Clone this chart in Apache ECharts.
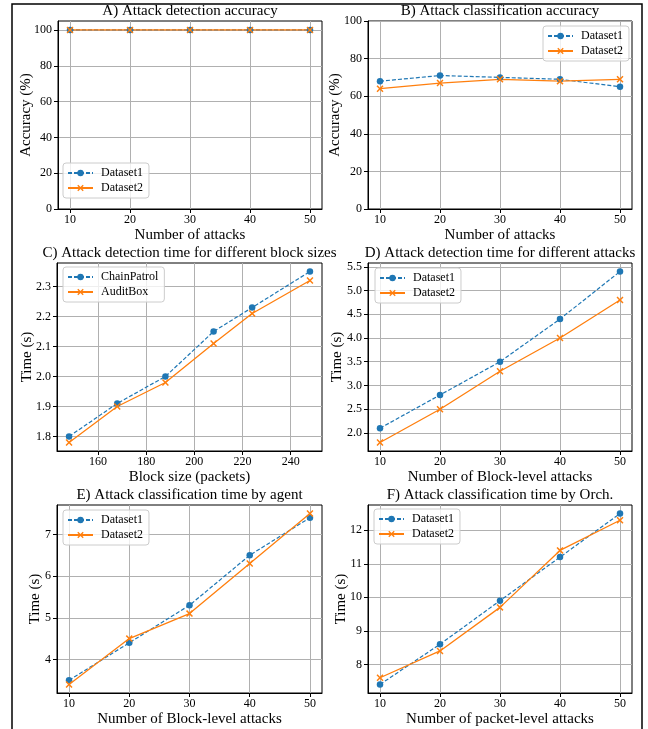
<!DOCTYPE html>
<html>
<head>
<meta charset="utf-8">
<script src="https://cdn.jsdelivr.net/npm/echarts@6/dist/echarts.min.js"></script>
<style>
  html, body { margin: 0; padding: 0; background: #fff; }
  #main { width: 648px; height: 729px; }
</style>
</head>
<body>
<div id="main"></div>
<script>
// ---- data ----
var attacks = [10, 20, 30, 40, 50];
var blockSizes = [148, 168, 188, 208, 224, 248];

var accDetect1 = [100, 100, 100, 100, 100];
var accDetect2 = [100, 100, 100, 100, 100];
var accClass1 = [68, 71, 70, 69, 65];
var accClass2 = [64, 67, 69, 68, 69];
var blockTimeChainPatrol = [1.80, 1.91, 2.00, 2.15, 2.23, 2.35];
var blockTimeAuditBox = [1.78, 1.90, 1.98, 2.11, 2.21, 2.32];
var detectTime1 = [2.1, 2.8, 3.5, 4.4, 5.4];
var detectTime2 = [1.8, 2.5, 3.3, 4.0, 4.8];
var agentTime1 = [3.5, 4.4, 5.3, 6.5, 7.4];
var agentTime2 = [3.4, 4.5, 5.1, 6.3, 7.5];
var orchTime1 = [7.4, 8.6, 9.9, 11.2, 12.5];
var orchTime2 = [7.6, 8.4, 9.7, 11.4, 12.3];

// tick labels
var attackTicks = [10, 20, 30, 40, 50];
var blockTicks = [160, 180, 200, 220, 240];
var accTicks = [0, 20, 40, 60, 80, 100];
var blockTimeTicks = [1.8, 1.9, 2.0, 2.1, 2.2, 2.3];
var detectTimeTicks = [2.0, 2.5, 3.0, 3.5, 4.0, 4.5, 5.0, 5.5];
var agentTimeTicks = [4, 5, 6, 7];
var orchTimeTicks = [8, 9, 10, 11, 12];

var FONT = '"Liberation Serif", "DejaVu Serif", serif';
var BLUE = '#1f77b4', ORANGE = '#ff7f0e';
var XMARK = 'path://M0,1.5L1.5,0L5,3.5L8.5,0L10,1.5L6.5,5L10,8.5L8.5,10L5,6.5L1.5,10L0,8.5L3.5,5Z';

function pairs(xs, ys) {
  return xs.map(function (x, i) { return [x, ys[i]]; });
}
// matplotlib style 5% margins
function padded(arrs) {
  var all = [].concat.apply([], arrs);
  var lo = Math.min.apply(null, all), hi = Math.max.apply(null, all);
  var m = (hi - lo) * 0.05;
  return [lo - m, hi + m];
}

var grids = [
  {left: 58, top: 21, width: 264, height: 188},
  {left: 368, top: 21, width: 264, height: 188},
  {left: 57, top: 263, width: 265, height: 188},
  {left: 368, top: 263, width: 264, height: 188},
  {left: 57, top: 505, width: 265, height: 188},
  {left: 368, top: 505, width: 264, height: 188}
];

var panels = [
  {title: 'A) Attack detection accuracy', titleTop: 3.5,
   xName: 'Number of attacks', yName: 'Accuracy (%)', yGap: 24,
   xs: attacks, xTicks: attackTicks, yTicks: accTicks, ylim: [0, 105], ySplit: 5,
   names: ['Dataset1', 'Dataset2'], ys: [accDetect1, accDetect2],
   legend: {left: 63, top: 163}, dec: 0},
  {title: 'B) Attack classification accuracy', titleTop: 3.5,
   xName: 'Number of attacks', yName: 'Accuracy (%)', yGap: 25,
   xs: attacks, xTicks: attackTicks, yTicks: accTicks, ylim: [0, 100], ySplit: 5,
   names: ['Dataset1', 'Dataset2'], ys: [accClass1, accClass2],
   legend: {left: 543, top: 26}, dec: 0},
  {title: 'C) Attack detection time for different block sizes', titleTop: 245.5,
   xName: 'Block size (packets)', yName: 'Time (s)', yGap: 22.5,
   xs: blockSizes, xTicks: blockTicks, yTicks: blockTimeTicks, ySplit: 5,
   names: ['ChainPatrol', 'AuditBox'], ys: [blockTimeChainPatrol, blockTimeAuditBox],
   legend: {left: 63, top: 267}, dec: 1},
  {title: 'D) Attack detection time for different attacks', titleTop: 245.5,
   xName: 'Number of Block-level attacks', yName: 'Time (s)', yGap: 23.5,
   xs: attacks, xTicks: attackTicks, yTicks: detectTimeTicks, ySplit: 8,
   names: ['Dataset1', 'Dataset2'], ys: [detectTime1, detectTime2],
   legend: {left: 375, top: 268}, dec: 1},
  {title: 'E) Attack classification time by agent', titleTop: 487.5,
   xName: 'Number of Block-level attacks', yName: 'Time (s)', yGap: 14.5,
   xs: attacks, xTicks: attackTicks, yTicks: agentTimeTicks, ySplit: 5,
   names: ['Dataset1', 'Dataset2'], ys: [agentTime1, agentTime2],
   legend: {left: 63, top: 510}, dec: 0},
  {title: 'F) Attack classification time by Orch.', titleTop: 487.5,
   xName: 'Number of packet-level attacks', yName: 'Time (s)', yGap: 19.5,
   xs: attacks, xTicks: attackTicks, yTicks: orchTimeTicks, ySplit: 5,
   names: ['Dataset1', 'Dataset2'], ys: [orchTime1, orchTime2],
   legend: {left: 374, top: 509}, dec: 0}
];

var titles = [], xAxes = [], yAxes = [], legends = [], series = [];

panels.forEach(function (p, i) {
  var g = grids[i];
  titles.push({
    text: p.title, left: g.left + g.width / 2, top: p.titleTop, textAlign: 'center', padding: 0,
    textStyle: {fontFamily: FONT, fontSize: 15, fontWeight: 'normal', color: '#000'}
  });
  var xl = padded([p.xs]);
  var yl = p.ylim || padded(p.ys);
  var common = {
    gridIndex: i, type: 'value', nameLocation: 'middle', nameMoveOverlap: false,
    nameTextStyle: {fontFamily: FONT, fontSize: 15, color: '#000'},
    axisLine: {show: true, lineStyle: {color: '#000', width: 1}},
    splitLine: {show: true, lineStyle: {color: '#b0b0b0', width: 1}}
  };
  xAxes.push(Object.assign({}, common, {
    min: xl[0], max: xl[1], name: p.xName, nameGap: 19, splitNumber: 5,
    axisTick: {show: true, length: 4, lineStyle: {color: '#000'}, customValues: p.xTicks},
    axisLabel: {customValues: p.xTicks, margin: 5, fontFamily: FONT, fontSize: 12, color: '#000'}
  }));
  yAxes.push(Object.assign({}, common, {
    min: yl[0], max: yl[1], name: p.yName, nameGap: p.yGap, nameRotate: 90, splitNumber: p.ySplit,
    axisTick: {show: true, length: 4, lineStyle: {color: '#000'}, customValues: p.yTicks},
    axisLabel: {
      customValues: p.yTicks, margin: 6, fontFamily: FONT, fontSize: 12, color: '#000',
      formatter: (function (d) { return function (v) { return v.toFixed(d); }; })(p.dec)
    }
  }));
  legends.push({
    left: p.legend.left, top: p.legend.top, orient: 'vertical',
    data: p.names, itemWidth: 25, itemHeight: 8, itemGap: 3,
    padding: [4, 6, 4, 4],
    backgroundColor: 'rgba(255,255,255,0.8)', borderColor: '#cccccc', borderWidth: 1, borderRadius: 3,
    textStyle: {fontFamily: FONT, fontSize: 12, color: '#000', padding: [0, 0, 0, 3]},
    selectedMode: false
  });
  series.push({
    name: p.names[0], type: 'line', xAxisIndex: i, yAxisIndex: i,
    data: pairs(p.xs, p.ys[0]),
    symbol: 'circle', symbolSize: 6.5,
    lineStyle: {color: BLUE, width: 1.2, type: [4, 2]},
    itemStyle: {color: BLUE}
  });
  series.push({
    name: p.names[1], type: 'line', xAxisIndex: i, yAxisIndex: i,
    data: pairs(p.xs, p.ys[1]),
    symbol: XMARK, symbolSize: 7,
    lineStyle: {color: ORANGE, width: 1.3, type: 'solid'},
    itemStyle: {color: ORANGE}
  });
});

var chart = echarts.init(document.getElementById('main'));
chart.setOption({
  animation: false,
  backgroundColor: '#fff',
  title: titles,
  grid: grids.map(function (g) {
    return Object.assign({show: true, borderColor: '#000', borderWidth: 1, backgroundColor: 'transparent'}, g);
  }),
  xAxis: xAxes,
  yAxis: yAxes,
  legend: legends,
  series: series,
  graphic: [{
    type: 'rect', silent: true,
    shape: {x: 12, y: 4, width: 630, height: 740},
    style: {fill: 'none', stroke: '#000', lineWidth: 1.5}
  }]
});
</script>
</body>
</html>
